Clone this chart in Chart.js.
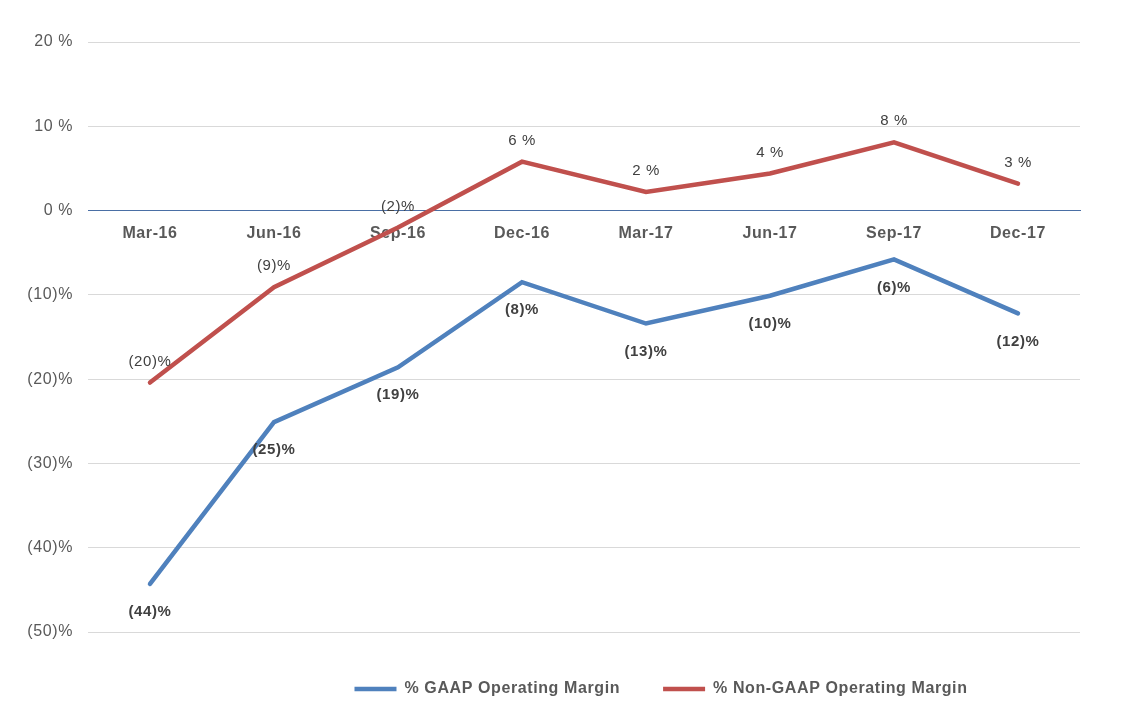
<!DOCTYPE html>
<html>
<head>
<meta charset="utf-8">
<script src="https://cdn.jsdelivr.net/npm/chart.js@4/dist/chart.umd.min.js"></script>
<style>
  html, body { margin: 0; padding: 0; background: #fff; }
  #wrap { width: 1138px; height: 720px; }
</style>
</head>
<body>
<div id="wrap"><canvas id="marginChart" width="1138" height="720"></canvas></div>
<script>
// quarters on the x axis
var quarters = ['Mar-16', 'Jun-16', 'Sep-16', 'Dec-16', 'Mar-17', 'Jun-17', 'Sep-17', 'Dec-17'];
// % GAAP operating margin
var gaapMargin = [-44.3, -25.1, -18.6, -8.5, -13.4, -10.1, -5.8, -12.2];
// % Non-GAAP operating margin
var nonGaapMargin = [-20.4, -9.1, -2.0, 5.8, 2.2, 4.4, 8.1, 3.2];
// y axis range / step
var yMin = -50, yMax = 20, yStep = 10;

var TXT = '#595959';
var FONT = '"Liberation Sans", Arial, sans-serif';

function fmtPct(v) {
    var r = Math.round(v);
    if (r < 0) return '(' + (-r) + ')%';
    return r + ' %';
}

// the source rendering has slightly looser text, canvas state is reset on resize
var looseText = {
    id: 'looseText',
    beforeUpdate: function(chart) { chart.ctx.letterSpacing = '0.6px'; },
    beforeDraw: function(chart) { chart.ctx.letterSpacing = '0.6px'; },
    // legend sits right of centre in the original
    afterLayout: function(chart) {
        var lg = chart.legend;
        lg.left += 121; lg.right += 121;
        lg.top += 6; lg.bottom += 6;
    }
};

// draws the value labels: non-GAAP above the point, GAAP below
var valueLabels = {
    id: 'valueLabels',
    afterDatasetsDraw: function(chart) {
        var ctx = chart.ctx;
        ctx.save();
        ctx.textAlign = 'center';
        ctx.textBaseline = 'middle';
        chart.data.datasets.forEach(function(ds, di) {
            var meta = chart.getDatasetMeta(di);
            var below = di === 0;
            ctx.font = (below ? 'bold ' : '') + '15px ' + FONT;
            ctx.fillStyle = '#404040';
            meta.data.forEach(function(pt, i) {
                var y = below ? pt.y + 28 : pt.y - 21;
                ctx.fillText(fmtPct(ds.data[i]), pt.x, y);
            });
        });
        ctx.restore();
    }
};

var ctx = document.getElementById('marginChart');
new Chart(ctx, {
    type: 'line',
    data: {
        labels: quarters,
        datasets: [
            {
                label: '% GAAP Operating Margin',
                data: gaapMargin,
                borderColor: '#4f81bd',
                backgroundColor: '#4f81bd',
                borderWidth: 4.5,
                borderCapStyle: 'round',
                borderJoinStyle: 'miter',
                pointRadius: 0,
                tension: 0
            },
            {
                label: '% Non-GAAP Operating Margin',
                data: nonGaapMargin,
                borderColor: '#c0504d',
                backgroundColor: '#c0504d',
                borderWidth: 4.5,
                borderCapStyle: 'round',
                borderJoinStyle: 'miter',
                pointRadius: 0,
                tension: 0
            }
        ]
    },
    options: {
        responsive: false,
        animation: false,
        layout: { padding: { top: 42, right: 58, bottom: 19, left: 0 } },
        plugins: {
            tooltip: { enabled: false },
            legend: {
                position: 'bottom',
                labels: {
                    usePointStyle: true,
                    pointStyle: 'line',
                    pointStyleWidth: 42,
                    boxHeight: 16,
                    padding: 43,
                    color: TXT,
                    font: { family: FONT, size: 16, weight: 'bold' }
                }
            }
        },
        scales: {
            x: {
                position: { y: 0 },
                offset: true,
                grid: { display: false, drawTicks: false },
                border: { display: true, color: '#4a6fa5', width: 1 },
                ticks: {
                    padding: 13,
                    color: TXT,
                    font: { family: FONT, size: 16, weight: 'bold' }
                },
                afterFit: function(scale) { scale.height = 0; }
            },
            y: {
                min: yMin,
                max: yMax,
                grid: {
                    drawTicks: false,
                    color: function(c) { return c.tick && c.tick.value === 0 ? '#4a6fa5' : '#d9d9d9'; },
                    lineWidth: 1
                },
                border: { display: false },
                ticks: {
                    stepSize: yStep,
                    padding: 15,
                    color: TXT,
                    font: { family: FONT, size: 16 },
                    callback: function(v) { return fmtPct(v); }
                },
                afterFit: function(scale) { scale.width = 88; }
            }
        }
    },
    plugins: [looseText, valueLabels]
});
</script>
</body>
</html>
